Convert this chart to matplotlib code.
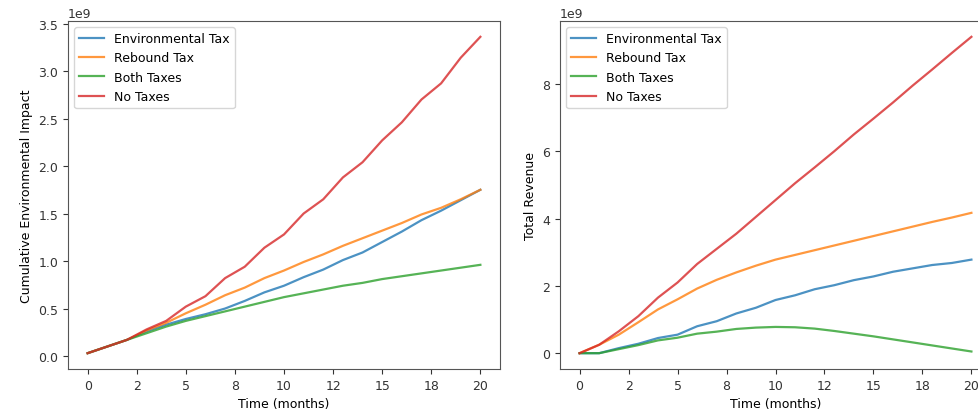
import numpy as np
import matplotlib
matplotlib.use("Agg")
import matplotlib.pyplot as plt
import matplotlib.ticker as ticker

plt.rcParams['font.size'] = 9

# months 0..20
months = np.arange(0, 21)
labels = ["Environmental Tax", "Rebound Tax", "Both Taxes", "No Taxes"]
colors = ["#1f77b4", "#ff7f0e", "#2ca02c", "#d62728"]

# cumulative environmental impact (x1e9)
impact_env = [0.03, 0.10, 0.17, 0.26, 0.33, 0.39, 0.44, 0.50, 0.58, 0.67, 0.74,
              0.83, 0.91, 1.01, 1.09, 1.20, 1.31, 1.43, 1.53, 1.64, 1.75]
impact_reb = [0.03, 0.10, 0.17, 0.27, 0.35, 0.45, 0.54, 0.64, 0.72, 0.82, 0.90,
              0.99, 1.07, 1.16, 1.24, 1.32, 1.40, 1.49, 1.56, 1.65, 1.75]
impact_both = [0.03, 0.10, 0.17, 0.24, 0.31, 0.37, 0.42, 0.47, 0.52, 0.57, 0.62,
               0.66, 0.70, 0.74, 0.77, 0.81, 0.84, 0.87, 0.90, 0.93, 0.96]
impact_none = [0.03, 0.10, 0.17, 0.28, 0.37, 0.52, 0.63, 0.82, 0.94, 1.14, 1.28,
               1.50, 1.65, 1.88, 2.04, 2.27, 2.46, 2.70, 2.87, 3.14, 3.36]

# total revenue (x1e9)
rev_env = [0.0, 0.0, 0.15, 0.28, 0.45, 0.55, 0.80, 0.95, 1.18, 1.35, 1.58,
           1.72, 1.90, 2.02, 2.17, 2.28, 2.42, 2.52, 2.62, 2.68, 2.78]
rev_reb = [0.0, 0.25, 0.55, 0.92, 1.30, 1.60, 1.92, 2.18, 2.40, 2.60, 2.78,
           2.92, 3.06, 3.20, 3.34, 3.48, 3.62, 3.76, 3.90, 4.03, 4.17]
rev_both = [0.0, 0.0, 0.12, 0.24, 0.38, 0.46, 0.58, 0.64, 0.72, 0.76, 0.78,
            0.77, 0.73, 0.66, 0.58, 0.50, 0.41, 0.32, 0.23, 0.14, 0.05]
rev_none = [0.0, 0.25, 0.65, 1.10, 1.65, 2.10, 2.65, 3.10, 3.55, 4.05, 4.55,
            5.05, 5.52, 6.00, 6.50, 6.97, 7.45, 7.95, 8.43, 8.92, 9.40]

impact = [impact_env, impact_reb, impact_both, impact_none]
revenue = [rev_env, rev_reb, rev_both, rev_none]

fig = plt.figure(figsize=(9.79, 4.14), dpi=100)
W, H = 979, 414
ax1 = fig.add_axes([68 / W, 44 / H, 432 / W, 348 / H])
ax2 = fig.add_axes([560 / W, 44 / H, 431 / W, 348 / H])

for ax, series, ylab in [(ax1, impact, "Cumulative Environmental Impact"),
                         (ax2, revenue, "Total Revenue")]:
    for vals, lab, c in zip(series, labels, colors):
        ax.plot(months, np.array(vals) * 1e9, color=c, label=lab, alpha=0.8, lw=1.6)
    ax.set_xlabel("Time (months)")
    ax.set_ylabel(ylab)
    ax.xaxis.set_major_formatter(ticker.FormatStrFormatter('%.0f'))
    ax.legend(loc="upper left")
    for s in ax.spines.values():
        s.set_color("#555555")
    ax.tick_params(colors="#333333")

fig.savefig("out.png", dpi=100)
